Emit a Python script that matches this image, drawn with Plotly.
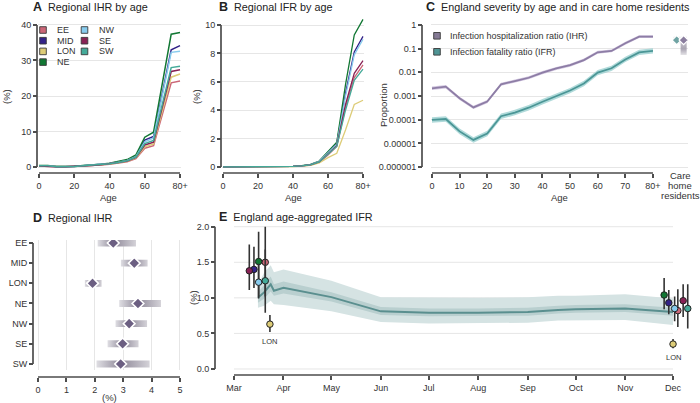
import plotly.graph_objects as go

W, H = 700, 403
FONT = "Liberation Sans, Arial, Helvetica, sans-serif"
TXT = "#333333"
AXC = "#4d4d4d"
GRID = "#e6e6e6"


def fx(p):
    return p / W


def fy(p):
    return 1 - p / H


# ---------------- data ----------------
ages = [0, 5, 10, 15, 20, 25, 30, 35, 40, 45, 50, 55, 60, 65, 70, 75, 80]
age_ticks = [0, 20, 40, 60, 80]
age_tick_labels = ["0", "20", "40", "60", "80+"]
c_age_ticks = [0, 10, 20, 30, 40, 50, 60, 70, 80]
c_age_tick_labels = ["0", "10", "20", "30", "40", "50", "60", "70", "80+"]

regions = ["EE", "MID", "LON", "NE", "NW", "SE", "SW"]
region_colors = ["#CC6677", "#332288", "#DDCC77", "#117733", "#88CCEE", "#882255", "#44AA99"]

# Panel A: regional IHR by age (%)
ihr_EE = [0.3, 0.3, 0.1, 0.08, 0.15, 0.3, 0.4, 0.55, 0.8, 1.1, 1.5, 2.4, 5.3, 6.0, 14.5, 23.7, 24.2]
ihr_MID = [0.35, 0.35, 0.12, 0.1, 0.18, 0.35, 0.5, 0.7, 1.0, 1.4, 1.9, 3.0, 7.6, 8.6, 20.5, 33.0, 34.2]
ihr_LON = [0.3, 0.3, 0.1, 0.09, 0.16, 0.32, 0.45, 0.6, 0.85, 1.2, 1.6, 2.6, 5.7, 6.5, 16.0, 25.3, 26.2]
ihr_NE = [0.4, 0.4, 0.13, 0.11, 0.2, 0.4, 0.55, 0.75, 1.1, 1.5, 2.1, 3.4, 8.4, 9.8, 23.5, 37.4, 37.9]
ihr_NW = [0.35, 0.35, 0.12, 0.1, 0.18, 0.35, 0.5, 0.68, 0.98, 1.35, 1.85, 2.9, 7.1, 8.2, 19.8, 32.3, 32.6]
ihr_SE = [0.32, 0.32, 0.11, 0.09, 0.17, 0.33, 0.46, 0.62, 0.9, 1.25, 1.7, 2.7, 6.2, 7.0, 17.0, 26.9, 27.4]
ihr_SW = [0.33, 0.33, 0.11, 0.09, 0.17, 0.34, 0.47, 0.64, 0.92, 1.28, 1.75, 2.8, 6.6, 7.5, 17.8, 28.0, 28.4]

# Panel B: regional IFR by age (%)
ifr_EE = [0.003, 0.003, 0.001, 0.001, 0.002, 0.006, 0.01, 0.02, 0.04, 0.07, 0.14, 0.33, 0.85, 1.45, 4.2, 6.3, 7.2]
ifr_MID = [0.003, 0.003, 0.001, 0.001, 0.002, 0.007, 0.012, 0.024, 0.05, 0.08, 0.17, 0.4, 1.0, 1.65, 5.2, 8.1, 9.2]
ifr_LON = [0.002, 0.002, 0.001, 0.001, 0.002, 0.005, 0.008, 0.015, 0.03, 0.06, 0.12, 0.28, 0.66, 0.97, 2.6, 4.4, 4.7]
ifr_NE = [0.003, 0.003, 0.001, 0.001, 0.002, 0.007, 0.012, 0.025, 0.05, 0.09, 0.18, 0.42, 1.1, 1.75, 5.8, 9.3, 10.4]
ifr_NW = [0.003, 0.003, 0.001, 0.001, 0.002, 0.007, 0.012, 0.024, 0.05, 0.08, 0.17, 0.4, 1.0, 1.6, 5.0, 7.9, 9.0]
ifr_SE = [0.003, 0.003, 0.001, 0.001, 0.002, 0.006, 0.011, 0.021, 0.045, 0.075, 0.15, 0.36, 0.9, 1.5, 4.4, 6.6, 7.5]
ifr_SW = [0.003, 0.003, 0.001, 0.001, 0.002, 0.006, 0.011, 0.021, 0.045, 0.075, 0.15, 0.36, 0.88, 1.45, 4.0, 6.1, 6.9]

# Panel C: England severity by age (proportion)
eng_ihr = [0.0021, 0.0025, 0.0008, 0.00033, 0.00058, 0.0031, 0.0043, 0.0059, 0.0097, 0.0147, 0.020, 0.033, 0.070, 0.080, 0.17, 0.32, 0.32]
eng_ihr_lo = [0.0018, 0.0021, 0.00068, 0.00028, 0.0005, 0.0027, 0.0037, 0.0051, 0.0084, 0.0127, 0.0173, 0.0285, 0.061, 0.070, 0.148, 0.28, 0.28]
eng_ihr_hi = [0.0025, 0.0029, 0.00094, 0.00039, 0.00068, 0.0036, 0.005, 0.0069, 0.0113, 0.017, 0.0232, 0.038, 0.081, 0.093, 0.197, 0.37, 0.37]
eng_ifr = [0.0000975, 0.000107, 0.000032, 0.000014, 0.000026, 0.00014, 0.0002, 0.00032, 0.00057, 0.001, 0.0017, 0.0034, 0.0097, 0.0148, 0.035, 0.070, 0.080]
eng_ifr_lo = [0.000075, 0.000082, 0.000024, 0.0000105, 0.00002, 0.000107, 0.000153, 0.000245, 0.000436, 0.00077, 0.0013, 0.0026, 0.0075, 0.0114, 0.027, 0.054, 0.062]
eng_ifr_hi = [0.000127, 0.000139, 0.000042, 0.0000182, 0.000034, 0.000182, 0.00026, 0.000416, 0.00074, 0.0013, 0.0022, 0.0044, 0.0126, 0.0192, 0.0455, 0.091, 0.104]
care_pos = [88.6, 91.1]
care_med = [0.23, 0.23]
care_lo = [0.17, 0.054]
care_hi = [0.32, 0.32]
care_colors = ["#6fa3a3", "#8a7d9e"]

# Panel D: regional IHR (%)
d_med = [2.65, 3.39, 1.92, 3.52, 3.21, 2.98, 2.91]
d_lo = [2.10, 2.92, 1.65, 2.86, 2.73, 2.45, 2.06]
d_hi = [3.45, 3.86, 2.24, 4.33, 3.84, 3.54, 3.93]

# Panel E: England age-aggregated IFR (%)
e_dates = ["2020-03-16", "2020-03-20", "2020-03-24", "2020-03-26", "2020-04-01", "2020-05-01",
           "2020-06-01", "2020-07-01", "2020-08-01", "2020-09-01", "2020-09-20", "2020-10-01",
           "2020-11-01", "2020-12-01"]
e_med = [1.00, 1.08, 1.19, 1.10, 1.14, 1.01, 0.81, 0.79, 0.79, 0.80, 0.83, 0.84, 0.85, 0.80]
e_in_lo = [0.93, 0.99, 1.09, 1.03, 1.06, 0.95, 0.76, 0.74, 0.74, 0.75, 0.78, 0.79, 0.80, 0.75]
e_in_hi = [1.08, 1.18, 1.30, 1.19, 1.23, 1.08, 0.87, 0.85, 0.85, 0.86, 0.89, 0.90, 0.91, 0.86]
e_out_lo = [0.86, 0.89, 0.96, 0.91, 0.90, 0.81, 0.66, 0.64, 0.64, 0.65, 0.68, 0.69, 0.69, 0.62]
e_out_hi = [1.18, 1.36, 1.46, 1.36, 1.40, 1.24, 1.01, 1.00, 1.00, 1.01, 1.03, 1.03, 1.05, 0.99]

e_early_dates = ["2020-03-20 14:00", "2020-03-13 12:00", "2020-03-23 12:00", "2020-03-16 10:00",
                 "2020-03-16 10:00", "2020-03-10 14:00", "2020-03-20 14:00"]
e_early_med = [1.50, 1.40, 0.63, 1.51, 1.22, 1.38, 1.24]
e_early_lo = [1.02, 1.14, 0.52, 0.99, 1.02, 1.11, 0.79]
e_early_hi = [2.00, 1.72, 0.76, 1.93, 1.48, 1.75, 1.68]
e_late_dates = ["2020-12-04 00:00", "2020-11-28 08:00", "2020-12-01 00:00", "2020-11-25 10:00",
                "2020-12-02 00:00", "2020-12-07 08:00", "2020-12-10 05:00"]
e_late_med = [0.82, 0.93, 0.35, 1.04, 0.85, 0.96, 0.85]
e_late_lo = [0.59, 0.77, 0.29, 0.84, 0.67, 0.73, 0.57]
e_late_hi = [1.12, 1.11, 0.42, 1.28, 1.02, 1.19, 1.19]

e_month_ticks = ["2020-03-01", "2020-04-01", "2020-05-01", "2020-06-01", "2020-07-01",
                 "2020-08-01", "2020-09-01", "2020-10-01", "2020-11-01", "2020-12-01"]
e_month_labels = ["Mar", "Apr", "May", "Jun", "Jul", "Aug", "Sep", "Oct", "Nov", "Dec"]

ihr_region = dict(zip(regions, [ihr_EE, ihr_MID, ihr_LON, ihr_NE, ihr_NW, ihr_SE, ihr_SW]))
ifr_region = dict(zip(regions, [ifr_EE, ifr_MID, ifr_LON, ifr_NE, ifr_NW, ifr_SE, ifr_SW]))

fig = go.Figure()

# ---------------- Panel A ----------------
for r, c in zip(regions, region_colors):
    fig.add_trace(go.Scatter(x=ages, y=ihr_region[r], mode="lines", name=r,
                             line=dict(color=c, width=1.5), xaxis="x", yaxis="y"))

# ---------------- Panel B ----------------
for r, c in zip(regions, region_colors):
    fig.add_trace(go.Scatter(x=ages, y=ifr_region[r], mode="lines", name=r,
                             line=dict(color=c, width=1.3), xaxis="x2", yaxis="y2"))

# ---------------- Panel C ----------------
fig.add_trace(go.Scatter(x=ages + ages[::-1], y=eng_ihr_hi + eng_ihr_lo[::-1], fill="toself",
                         fillcolor="rgba(200,186,218,0.8)", line=dict(width=0), mode="lines",
                         xaxis="x3", yaxis="y3"))
fig.add_trace(go.Scatter(x=ages, y=eng_ihr, mode="lines", line=dict(color="#8d7da5", width=1.8),
                         xaxis="x3", yaxis="y3"))
fig.add_trace(go.Scatter(x=ages + ages[::-1], y=eng_ifr_hi + eng_ifr_lo[::-1], fill="toself",
                         fillcolor="rgba(150,205,205,0.75)", line=dict(width=0), mode="lines",
                         xaxis="x3", yaxis="y3"))
fig.add_trace(go.Scatter(x=ages, y=eng_ifr, mode="lines", line=dict(color="#4b9696", width=1.8),
                         xaxis="x3", yaxis="y3"))
for cx, lo, hi, md in zip(care_pos, care_lo, care_hi, care_med):
    f = (hi - md) / (hi - lo)
    f = min(max(f, 0.05), 0.95)
    fig.add_trace(go.Scatter(x=[cx - 1.1, cx + 1.1, cx + 1.1, cx - 1.1, cx - 1.1],
                             y=[lo, lo, hi, hi, lo], fill="toself", mode="lines",
                             line=dict(width=0),
                             fillgradient=dict(type="vertical",
                                               colorscale=[[0, "#e4e3e7"], [f, "#a9a4b2"], [1, "#dcdae0"]]),
                             xaxis="x3", yaxis="y3"))
fig.add_trace(go.Scatter(x=care_pos, y=care_med, mode="markers",
                         marker=dict(symbol="diamond", size=7, color=care_colors,
                                     line=dict(color="white", width=1.2)),
                         xaxis="x3", yaxis="y3"))

# ---------------- Panel D ----------------
for i, (lo, hi, md) in enumerate(zip(d_lo, d_hi, d_med)):
    f = (md - lo) / (hi - lo)
    f = min(max(f, 0.05), 0.95)
    fig.add_trace(go.Scatter(x=[lo, hi, hi, lo, lo], y=[i - 0.17, i - 0.17, i + 0.17, i + 0.17, i - 0.17],
                             fill="toself", mode="lines", line=dict(width=0),
                             fillgradient=dict(type="horizontal",
                                               colorscale=[[0, "#dfdee3"], [f, "#8f8999"], [1, "#d4d2d8"]]),
                             xaxis="x4", yaxis="y4"))
fig.add_trace(go.Scatter(x=d_med, y=list(range(len(regions))), mode="markers",
                         marker=dict(symbol="diamond", size=9, color="#6c5f82",
                                     line=dict(color="white", width=1.6)),
                         xaxis="x4", yaxis="y4"))

# ---------------- Panel E ----------------
fig.add_trace(go.Scatter(x=e_dates + e_dates[::-1], y=e_out_hi + e_out_lo[::-1], fill="toself",
                         fillcolor="#d5e3e3", line=dict(width=0), mode="lines",
                         xaxis="x5", yaxis="y5"))
fig.add_trace(go.Scatter(x=e_dates + e_dates[::-1], y=e_in_hi + e_in_lo[::-1], fill="toself",
                         fillcolor="#b9cfcf", line=dict(width=0), mode="lines",
                         xaxis="x5", yaxis="y5"))
fig.add_trace(go.Scatter(x=e_dates, y=e_med, mode="lines", line=dict(color="#5a8f8f", width=2),
                         xaxis="x5", yaxis="y5"))
for k, (r, c) in enumerate(zip(regions, region_colors)):
    xs = [e_early_dates[k], e_late_dates[k]]
    ys = [e_early_med[k], e_late_med[k]]
    up = [e_early_hi[k] - e_early_med[k], e_late_hi[k] - e_late_med[k]]
    dn = [e_early_med[k] - e_early_lo[k], e_late_med[k] - e_late_lo[k]]
    fig.add_trace(go.Scatter(x=xs, y=ys, mode="markers",
                             marker=dict(symbol="circle", size=6.5, color=c, line=dict(color="#222", width=1)),
                             error_y=dict(type="data", array=up, arrayminus=dn, color="#333",
                                          thickness=1.6, width=0),
                             xaxis="x5", yaxis="y5"))

# ---------------- axes ----------------
tick = dict(ticks="outside", ticklen=4, tickwidth=1.5, tickcolor=AXC, showline=False, zeroline=False,
            tickfont=dict(size=9, color=TXT, family=FONT), automargin=False, fixedrange=True,
            anchor="free")

layout = dict(
    xaxis=dict(domain=[fx(38.1), fx(180.9)], range=[-0.5, 80.5], position=fy(173),
               tickvals=age_ticks, ticktext=age_tick_labels, showgrid=False, **tick),
    yaxis=dict(domain=[fy(168.8), fy(23.2)], range=[-0.5, 40.5], position=fx(37),
               tickvals=[0, 10, 20, 30, 40], showgrid=True, gridcolor=GRID, **tick),
    xaxis2=dict(domain=[fx(222.1), fx(363.9)], range=[-0.5, 80.5], position=fy(173),
                tickvals=age_ticks, ticktext=age_tick_labels, showgrid=False, **tick),
    yaxis2=dict(domain=[fy(168.7), fy(15.8)], range=[-0.12, 10.65], position=fx(221),
                tickvals=[0, 2, 4, 6, 8, 10], showgrid=True, gridcolor=GRID, **tick),
    xaxis3=dict(domain=[fx(430.6), fx(687.5)], range=[-0.5, 92.5], position=fy(173),
                tickvals=c_age_ticks, ticktext=c_age_tick_labels, showgrid=False, **tick),
    yaxis3=dict(domain=[fy(169.4), fy(23.8)], type="log", range=[-6.1, 0.05], position=fx(422),
                tickvals=[1e-6, 1e-5, 1e-4, 1e-3, 1e-2, 1e-1, 1],
                ticktext=["0.000001", "0.00001", "0.0001", "0.001", "0.01", "0.1", "1"],
                showgrid=True, gridcolor=GRID, **tick),
    xaxis4=dict(domain=[fx(36.6), fx(181.4)], range=[-0.05, 5.05], position=fy(377),
                tickvals=[0, 1, 2, 3, 4, 5], showgrid=True, gridcolor=GRID, **tick),
    yaxis4=dict(domain=[fy(370), fy(240)], range=[6.3, -0.15], position=fx(33),
                tickvals=list(range(len(regions))), ticktext=regions, showgrid=False, **tick),
    xaxis5=dict(domain=[fx(232.4), fx(692.2)], type="date", range=["2020-02-29", "2020-12-13"],
                position=fy(375), tickvals=e_month_ticks, ticktext=e_month_labels, showgrid=False, **tick),
    yaxis5=dict(domain=[fy(370.4), fy(225.3)], range=[-0.02, 2.02], position=fx(215),
                tickvals=[0, 0.5, 1, 1.5, 2], ticktext=["0.0", "0.5", "1.0", "1.5", "2.0"],
                showgrid=False, **tick),
)

# ---------------- shapes: axis lines, gridlines, legends ----------------
shapes = []
AXLINE = dict(color=AXC, width=1.7)


def vline(xpx, yref, y0, y1):
    shapes.append(dict(type="line", xref="paper", x0=fx(xpx), x1=fx(xpx), yref=yref, y0=y0, y1=y1,
                       line=AXLINE, layer="above"))


def hline(ypx, xref, x0, x1):
    shapes.append(dict(type="line", yref="paper", y0=fy(ypx), y1=fy(ypx), xref=xref, x0=x0, x1=x1,
                       line=AXLINE, layer="above"))


vline(37, "y", 0, 40)
hline(173, "x", 0, 80)
vline(221, "y2", 0, 10)
hline(173, "x2", 0, 80)
vline(422, "paper", fy(167), fy(25))
hline(173, "x3", 0, 80)
vline(33, "y4", 0, 6)
hline(377, "x4", 0, 5)
vline(215, "y5", 0, 2)
hline(375, "x5", e_month_ticks[0], e_month_ticks[-1])

for gy in [0, 0.5, 1, 1.5, 2]:
    shapes.append(dict(type="line", xref="x5", x0=e_month_ticks[0], x1=e_month_ticks[-1], yref="y5",
                       y0=gy, y1=gy, line=dict(color=GRID, width=1), layer="below"))

annotations = []


def legend_item(cx, cy, color, label, tx):
    shapes.append(dict(type="rect", xref="paper", yref="paper", x0=fx(cx - 3.3), x1=fx(cx + 3.3),
                       y0=fy(cy + 3.3), y1=fy(cy - 3.3), fillcolor=color,
                       line=dict(color="#3a3a3a", width=0.9), layer="above"))
    annotations.append(dict(xref="paper", yref="paper", x=fx(tx), y=fy(cy), xanchor="left",
                            yanchor="middle", text=label, showarrow=False,
                            font=dict(size=9, color=TXT, family=FONT)))


legend_cols = [(43, 55), (43, 55), (43, 55), (43, 55), (84.5, 96.7), (84.5, 96.7), (84.5, 96.7)]
legend_rows = [30, 40.7, 51.4, 62.1, 30, 40.7, 51.4]
for (cx, tx), cy, c, r in zip(legend_cols, legend_rows, region_colors, regions):
    legend_item(cx, cy, c, r, tx)

legend_item(437, 35.8, "#857a95", "Infection hospitalization ratio (IHR)", 448)
legend_item(437, 51.8, "#4f9494", "Infection fatality ratio (IFR)", 448)


def title(xpx, ypx, letter, text):
    annotations.append(dict(xref="paper", yref="paper", x=fx(xpx), y=fy(ypx), xanchor="left",
                            yanchor="middle", showarrow=False,
                            text="<b><span style='font-size:12.5px'>" + letter + "</span></b>  " + text,
                            font=dict(size=10.8, color="#222", family=FONT)))


title(31, 7, "A", "Regional IHR by age")
title(217, 7, "B", "Regional IFR by age")
title(424, 7, "C", "England severity by age and in care home residents")
title(31, 218, "D", "Regional IHR")
title(217, 217, "E", "England age-aggregated IFR")


def label(xpx, ypx, text, angle=0, size=9.5):
    annotations.append(dict(xref="paper", yref="paper", x=fx(xpx), y=fy(ypx), xanchor="center",
                            yanchor="middle", showarrow=False, text=text, textangle=angle,
                            font=dict(size=size, color=TXT, family=FONT)))


label(108.5, 197, "Age")
label(293, 197, "Age")
label(559, 197, "Age")
label(7, 97, "(%)", -90)
label(197, 97, "(%)", -90)
label(383, 105, "Proportion", -90)
label(109, 397, "(%)")
label(193, 297, "(%)", -90)

for k, word in enumerate(["Care", "home", "residents"]):
    annotations.append(dict(xref="x3", yref="paper", x=89.8, y=fy(175 + 10 * k), xanchor="center",
                            yanchor="middle", showarrow=False, text=word,
                            font=dict(size=9.5, color=TXT, family=FONT)))

lon = regions.index("LON")
for d, lo in [(e_early_dates[lon], e_early_lo[lon]), (e_late_dates[lon], e_late_lo[lon])]:
    annotations.append(dict(xref="x5", yref="y5", x=d, y=lo, xanchor="center", yanchor="top",
                            yshift=-3, showarrow=False, text="LON",
                            font=dict(size=7.5, color=TXT, family=FONT)))

fig.update_layout(
    width=W, height=H, margin=dict(l=0, r=0, t=0, b=0),
    paper_bgcolor="white", plot_bgcolor="white", showlegend=False, hovermode=False,
    font=dict(family=FONT, color=TXT),
    shapes=shapes, annotations=annotations, **layout,
)

fig.write_html("out.html", config={"displayModeBar": False},
               post_script="document.body.style.margin='0';document.body.style.overflow='hidden';")
